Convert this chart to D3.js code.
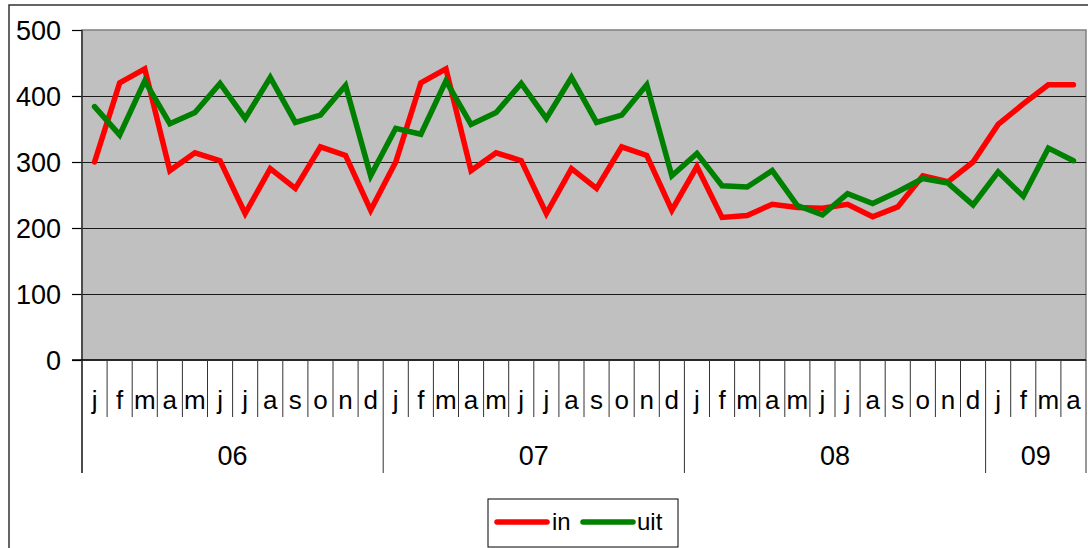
<!DOCTYPE html>
<html>
<head>
<meta charset="utf-8">
<script src="https://cdn.jsdelivr.net/npm/d3@7"></script>
<style>
  html, body { margin: 0; padding: 0; background: #fff; }
  svg { display: block; font-family: "Liberation Sans", Arial, sans-serif; }
</style>
</head>
<body>
<svg id="chart" width="1088" height="548"></svg>
<script>
// ---- data ----
const monthLabels = ["j","f","m","a","m","j","j","a","s","o","n","d"];
const years = ["06","07","08","09"];
const monthsPerYear = [12, 12, 12, 4];
const yTicks = [0, 100, 200, 300, 400, 500];
const seriesNames = ["in", "uit"];
const seriesColors = ["#ff0000", "#008000"];
const inValues = [
  300, 420, 441, 287, 314, 302, 222, 290, 260, 323, 310, 227,
  300, 420, 441, 287, 314, 302, 222, 290, 260, 323, 310, 227,
  293, 216, 219, 236, 231, 230, 236, 217, 232, 279, 270, 300,
  357, 388, 417, 417
];
const uitValues = [
  384, 341, 423, 358, 375, 419, 366, 428, 360, 371, 416, 279,
  351, 342, 423, 357, 375, 419, 366, 428, 360, 371, 417, 279,
  313, 264, 262, 287, 234, 220, 252, 237, 255, 275, 268, 235,
  285, 248, 321, 302
];

// categories built from months/years
const categories = [];
years.forEach((yr, yi) => {
  for (let m = 0; m < monthsPerYear[yi]; m++) categories.push({ key: yr + "-" + m, month: monthLabels[m], year: yr });
});

const svg = d3.select("#chart");
const plot = { left: 82, right: 1086, top: 30, bottom: 360 };

// outer chart border
svg.append("rect").attr("x", 9).attr("y", 5).attr("width", 1200).attr("height", 700)
  .attr("fill", "#fff").attr("stroke", "#333").attr("stroke-width", 1.5);

const x = d3.scaleBand().domain(categories.map(d => d.key)).range([plot.left, plot.right]).padding(0);
const y = d3.scaleLinear().domain([0, 500]).range([plot.bottom, plot.top]);

// plot background
svg.append("rect").attr("x", plot.left).attr("y", plot.top)
  .attr("width", plot.right - plot.left).attr("height", plot.bottom - plot.top)
  .attr("fill", "#c0c0c0").attr("stroke", "#808080").attr("stroke-width", 1.5);

// gridlines
const grid = svg.append("g").attr("transform", `translate(${plot.left},0)`)
  .call(d3.axisLeft(y).tickValues(yTicks.filter(v => v > 0 && v < 500)).tickSize(-(plot.right - plot.left)).tickFormat(""));
grid.select(".domain").remove();
grid.selectAll("line").attr("stroke", "#1a1a1a").attr("stroke-width", 1);

// y axis
const yAxis = svg.append("g").attr("transform", `translate(${plot.left},0)`)
  .call(d3.axisLeft(y).tickValues(yTicks).tickSize(10).tickPadding(11).tickSizeOuter(0));
yAxis.select(".domain").remove();
yAxis.selectAll("line").attr("stroke", "#000").attr("stroke-width", 1.2);
yAxis.selectAll("text").attr("font-size", "27px").attr("fill", "#000")
  .attr("font-family", "Liberation Sans, Arial, sans-serif").attr("dy", "0.36em");

// y axis line (extends down through category area)
svg.append("line").attr("x1", plot.left).attr("x2", plot.left).attr("y1", plot.top).attr("y2", 473)
  .attr("stroke", "#333").attr("stroke-width", 1.5);
// x axis line
svg.append("line").attr("x1", plot.left - 10).attr("x2", plot.right).attr("y1", plot.bottom).attr("y2", plot.bottom)
  .attr("stroke", "#000").attr("stroke-width", 1.5);

// category tick lines
const boundaries = categories.map((d, i) => ({ x: x(d.key), yearStart: i === 0 || d.month === "j" && categories[i-1].year !== d.year }));
boundaries.push({ x: plot.right, yearStart: true });
svg.append("g").selectAll("line").data(boundaries).join("line")
  .attr("x1", d => d.x).attr("x2", d => d.x)
  .attr("y1", plot.bottom).attr("y2", d => d.yearStart ? 473 : 417)
  .attr("stroke", "#333").attr("stroke-width", 1);

// month labels
svg.append("g").selectAll("text").data(categories).join("text")
  .attr("x", d => x(d.key) + x.bandwidth() / 2).attr("y", 409)
  .attr("text-anchor", "middle").attr("font-size", "26px").attr("fill", "#000")
  .text(d => d.month);

// year labels
const yearGroups = years.map(yr => {
  const cs = categories.filter(c => c.year === yr);
  return { yr, x0: x(cs[0].key), x1: x(cs[cs.length - 1].key) + x.bandwidth() };
});
svg.append("g").selectAll("text").data(yearGroups).join("text")
  .attr("x", d => (d.x0 + d.x1) / 2).attr("y", 465)
  .attr("text-anchor", "middle").attr("font-size", "27px").attr("fill", "#000")
  .text(d => d.yr);

// lines
const line = d3.line().x((v, i) => x(categories[i].key) + x.bandwidth() / 2).y(v => y(v));
[inValues, uitValues].forEach((vals, si) => {
  svg.append("path").datum(vals).attr("d", line).attr("fill", "none")
    .attr("stroke", seriesColors[si]).attr("stroke-width", 5.5)
    .attr("stroke-linejoin", "miter").attr("stroke-linecap", "round");
});

// legend
const lg = svg.append("g");
lg.append("rect").attr("x", 488).attr("y", 499).attr("width", 190).attr("height", 48)
  .attr("fill", "#fff").attr("stroke", "#000").attr("stroke-width", 1);
const legendItems = [
  { name: seriesNames[0], color: seriesColors[0], lx0: 497, lx1: 547, tx: 552 },
  { name: seriesNames[1], color: seriesColors[1], lx0: 583, lx1: 633, tx: 637 }
];
legendItems.forEach(it => {
  lg.append("line").attr("x1", it.lx0).attr("x2", it.lx1).attr("y1", 522).attr("y2", 522)
    .attr("stroke", it.color).attr("stroke-width", 5.5).attr("stroke-linecap", "round");
  lg.append("text").attr("x", it.tx).attr("y", 530).attr("font-size", "24px")
    .attr("fill", "#000").text(it.name);
});
</script>
</body>
</html>
